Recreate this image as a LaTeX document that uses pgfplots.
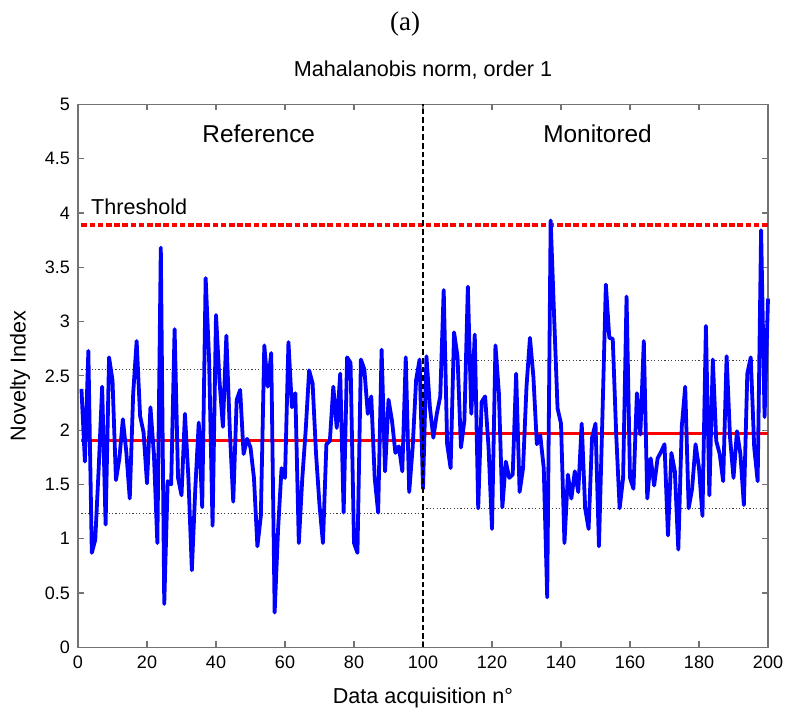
\documentclass[border=0pt]{standalone}
\usepackage{fontspec}
\setmainfont{Liberation Sans}
\newfontfamily\serifa{Liberation Serif}
\usepackage{pgfplots}
\pgfplotsset{compat=1.18}
\usepackage{pgfplotstable}
\pgfplotstableread{
x y
1 2.38
2 1.71
3 2.73
4 0.87
5 0.99
6 1.65
7 2.40
8 1.13
9 2.67
10 2.46
11 1.54
12 1.74
13 2.10
14 1.80
15 1.37
16 2.34
17 2.82
18 2.13
19 1.98
20 1.51
21 2.21
22 1.78
23 0.96
24 3.68
25 0.40
26 1.53
27 1.50
28 2.93
29 1.56
30 1.40
31 2.15
32 1.56
33 0.71
34 1.46
35 2.07
36 1.29
37 3.40
38 2.65
39 1.12
40 3.06
41 2.46
42 2.03
43 2.87
44 2.00
45 1.34
46 2.28
47 2.37
48 1.78
49 1.92
50 1.84
51 1.56
52 0.93
53 1.21
54 2.78
55 2.40
56 2.71
57 0.32
58 1.09
59 1.65
60 1.56
61 2.81
62 2.21
63 2.34
64 0.96
65 1.55
66 2.00
67 2.55
68 2.43
69 1.78
70 1.31
71 0.96
72 1.87
73 1.90
74 2.40
75 2.02
76 2.52
77 1.24
78 2.67
79 2.62
80 0.96
81 0.87
82 2.65
83 2.56
84 2.15
85 2.31
86 1.56
87 1.24
88 2.74
89 1.62
90 2.28
91 2.09
92 1.79
93 1.85
94 1.62
95 2.67
96 1.43
97 1.84
98 2.46
99 2.65
100 1.46
101 2.68
102 2.21
103 1.93
104 2.15
105 2.31
106 3.29
107 1.87
108 1.65
109 2.90
110 2.68
111 1.84
112 2.09
113 3.32
114 2.15
115 2.88
116 1.28
117 2.26
118 2.31
119 1.84
120 1.09
121 2.78
122 2.34
123 1.29
124 1.71
125 1.56
126 1.59
127 2.52
128 1.43
129 1.65
130 2.40
131 2.85
132 2.49
133 1.87
134 1.95
135 1.65
136 0.46
137 3.93
138 3.05
139 2.20
140 2.06
141 0.96
142 1.59
143 1.37
144 1.62
145 1.43
146 2.06
147 1.28
148 1.09
149 1.93
150 2.06
151 0.93
152 2.12
153 3.34
154 2.85
155 2.84
156 1.96
157 1.28
158 1.56
159 3.23
160 1.56
161 1.46
162 2.34
163 1.96
164 2.82
165 1.37
166 1.74
167 1.49
168 1.74
169 1.80
170 1.87
171 1.03
172 1.79
173 1.62
174 0.90
175 2.03
176 2.40
177 1.28
178 1.46
179 1.87
180 1.65
181 1.21
182 2.96
183 1.40
184 2.65
185 1.90
186 1.78
187 1.53
188 2.68
189 1.93
190 1.56
191 1.99
192 1.78
193 1.31
194 2.52
195 2.67
196 1.84
197 1.53
198 3.84
199 2.12
200 3.21
}\novelty
\begin{document}
\begin{tikzpicture}
\begin{axis}[
  at={(39pt,33.35pt)}, anchor=south west,
  scale only axis, width=345pt, height=271.5pt,
  xmin=0, xmax=200, ymin=0, ymax=5,
  xtick={0,20,...,200}, ytick={0,0.5,...,5},
  tick align=inside, major tick length=3pt,
  axis line style={black!55, line width=0.6pt},
  tick style={black!55, line width=0.6pt},
  /pgf/number format/assume math mode=true,
  tick label style={font=\fontsize{9}{10}\selectfont, black},
  xticklabel style={yshift=-1pt},
  yticklabel style={xshift=-0.5pt},
  xlabel={Data acquisition n°},
  ylabel={Novelty Index},
  label style={font=\fontsize{10.8}{12}\selectfont},
  xlabel style={at={(axis description cs:0.5,-0.0934)}, anchor=center},
  ylabel style={at={(axis description cs:-0.084,0.5)}, anchor=center},
  title={Mahalanobis norm, order 1},
  title style={at={(axis description cs:0.5,1.041)}, anchor=center, font=\fontsize{10.8}{12}\selectfont},
  clip=false,
]
% threshold
\addplot[red, line width=1.75pt, dash pattern=on 2.8pt off 1.3pt] coordinates {(1,3.89) (200,3.89)};
% reference statistics
\addplot[red, line width=1.5pt] coordinates {(1,1.90) (100,1.90)};
\addplot[black!75, line width=0.6pt, dash pattern=on 0.6pt off 1.1pt] coordinates {(1,2.56) (100,2.56)};
\addplot[black!75, line width=0.6pt, dash pattern=on 0.6pt off 1.1pt] coordinates {(1,1.23) (100,1.23)};
% monitored statistics
\addplot[red, line width=1.5pt] coordinates {(101,1.97) (200,1.97)};
\addplot[black!75, line width=0.6pt, dash pattern=on 0.6pt off 1.1pt] coordinates {(101,2.64) (200,2.64)};
\addplot[black!75, line width=0.6pt, dash pattern=on 0.6pt off 1.1pt] coordinates {(101,1.28) (200,1.28)};
% novelty index
\addplot[blue, line width=1.9pt, line join=round] table[x=x, y=y] {\novelty};
% separator
\addplot[black, line width=1.4pt, dash pattern=on 2.8pt off 1.5pt] coordinates {(100,0) (100,5)};
\node[font=\fontsize{12.2}{14}\selectfont] at (axis cs:52.4,4.73) {Reference};
\node[font=\fontsize{12.2}{14}\selectfont] at (axis cs:150.6,4.73) {Monitored};
\node[font=\fontsize{10.8}{12}\selectfont, anchor=west, inner sep=0pt] at (axis cs:3.7,4.06) {Threshold};
\end{axis}
\node[font=\serifa\fontsize{13.5}{15}\selectfont] at (202.5pt,345pt) {(a)};
\pgfresetboundingbox
\path (0,0) rectangle (393pt,357pt);
\end{tikzpicture}
\end{document}
